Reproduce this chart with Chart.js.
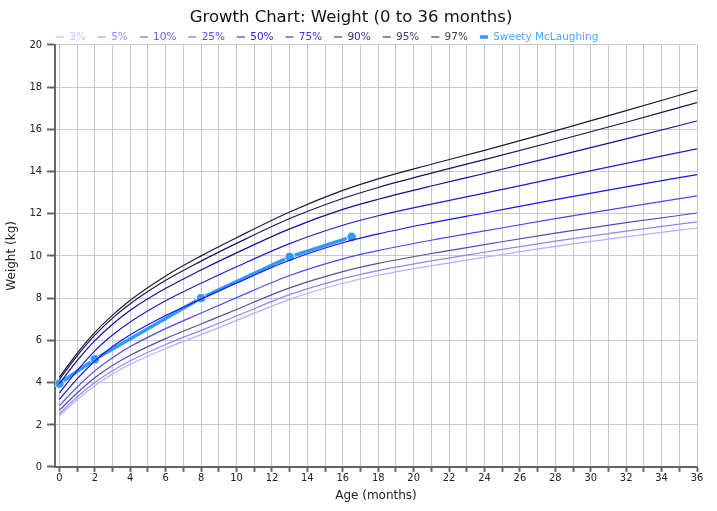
<!DOCTYPE html>
<html>
<head>
<meta charset="utf-8">
<script src="https://cdn.jsdelivr.net/npm/chart.js@4/dist/chart.umd.min.js"></script>
<style>
  html, body { margin: 0; padding: 0; background: #fff; }
  #wrap { width: 717px; height: 511px; }
</style>
</head>
<body>
<div id="wrap"><canvas id="myChart" width="717" height="511"></canvas></div>
<script>
// ages (months) at which the percentile curves are sampled
const ages = [0, 1, 2, 3, 4, 6, 8, 10, 13, 16, 18, 21, 24, 28, 32, 36];

// percentile curves, weight in kg
const p3 = [2.42, 3.18, 3.85, 4.4, 4.86, 5.61, 6.27, 6.94, 7.94, 8.7, 9.08, 9.53, 9.93, 10.45, 10.9, 11.32];
const p5 = [2.52, 3.31, 4.0, 4.56, 5.03, 5.8, 6.47, 7.15, 8.16, 8.92, 9.3, 9.76, 10.17, 10.7, 11.17, 11.61];
const p10 = [2.68, 3.5, 4.22, 4.8, 5.29, 6.08, 6.77, 7.46, 8.48, 9.25, 9.64, 10.11, 10.53, 11.08, 11.57, 12.03];
const p25 = [2.9, 3.78, 4.55, 5.17, 5.7, 6.55, 7.29, 8.02, 9.07, 9.86, 10.25, 10.74, 11.18, 11.76, 12.31, 12.84];
const p50 = [3.2, 4.17, 5.02, 5.7, 6.26, 7.17, 7.95, 8.71, 9.79, 10.62, 11.04, 11.56, 12.03, 12.66, 13.27, 13.85];
const p75 = [3.5, 4.56, 5.5, 6.25, 6.87, 7.87, 8.7, 9.48, 10.58, 11.45, 11.9, 12.45, 12.97, 13.68, 14.38, 15.07];
const p90 = [3.95, 5.03, 5.98, 6.76, 7.42, 8.46, 9.33, 10.14, 11.28, 12.2, 12.68, 13.31, 13.9, 14.71, 15.54, 16.39];
const p95 = [4.15, 5.26, 6.24, 7.05, 7.73, 8.84, 9.75, 10.59, 11.77, 12.72, 13.24, 13.92, 14.56, 15.43, 16.33, 17.26];
const p97 = [4.25, 5.38, 6.37, 7.19, 7.9, 9.05, 10.0, 10.86, 12.08, 13.1, 13.65, 14.34, 15.0, 15.92, 16.88, 17.85];

// the child's measurements
const childName = "Sweety McLaughing";
const childAges = [0, 2, 8, 13, 16.5];
const childWeights = [3.95, 5.1, 8.0, 9.95, 10.9];

// axis ticks
const xTicks = [0, 2, 4, 6, 8, 10, 12, 14, 16, 18, 20, 22, 24, 26, 28, 30, 32, 34, 36];
const yTicks = [0, 2, 4, 6, 8, 10, 12, 14, 16, 18, 20];

const percentiles = [
  { label: "3%", values: p3, color: "#b0b0ff", text: "#c6c6ff" },
  { label: "5%", values: p5, color: "#8a8af5", text: "#9292ff" },
  { label: "10%", values: p10, color: "#5050b0", text: "#6464e8" },
  { label: "25%", values: p25, color: "#4a4af5", text: "#4c4cf0" },
  { label: "50%", values: p50, color: "#1414ff", text: "#2222ee" },
  { label: "75%", values: p75, color: "#1c1cd0", text: "#3434dc" },
  { label: "90%", values: p90, color: "#10109a", text: "#30308e" },
  { label: "95%", values: p95, color: "#16165c", text: "#3e3e66" },
  { label: "97%", values: p97, color: "#1c1c30", text: "#3c3c4c" },
];

const datasets = percentiles.map((p) => ({
  label: p.label,
  data: ages.map((a, i) => ({ x: a, y: p.values[i] })),
  borderColor: p.color,
  backgroundColor: p.color,
  textColor: p.text,
  legendColor: p.color + "80",
  borderWidth: 1.2,
  pointRadius: 0,
  cubicInterpolationMode: "monotone",
  fill: false,
}));

datasets.push({
  label: childName,
  data: childAges.map((a, i) => ({ x: a, y: childWeights[i] })),
  borderColor: "#3399ff",
  backgroundColor: "#3399ff",
  textColor: "#4da6ff",
  legendColor: "#3399ff",
  borderWidth: 3.5,
  pointRadius: 4.8,
  pointBackgroundColor: "#3399ff",
  pointBorderColor: "#ffffff",
  pointBorderWidth: 1,
  tension: 0,
  fill: false,
});

const font = "'DejaVu Sans', Verdana, sans-serif";
const tickFont = "'DejaVu Sans Condensed', 'DejaVu Sans', sans-serif";

// squeeze the legend between the title and the plot, starting at the y axis
const legendTweak = {
  id: "legendTweak",
  beforeLayout(chart) {
    const lg = chart.legend;
    if (lg && !lg._tweaked) {
      const fit = lg.fit.bind(lg);
      lg.fit = function () {
        fit();
        this.height = 15;
      };
      lg._tweaked = true;
    }
  },
  afterLayout(chart) {
    const lg = chart.legend;
    lg.left -= 11;
    lg.right -= 11;
    lg.top -= 10;
  },
};

const ctx = document.getElementById("myChart").getContext("2d");
new Chart(ctx, {
  type: "line",
  data: { datasets: datasets },
  plugins: [legendTweak],
  options: {
    responsive: false,
    animation: false,
    layout: { padding: { left: 5, right: 20, top: 0, bottom: 8 } },
    plugins: {
      title: {
        display: true,
        text: "Growth Chart: Weight (0 to 36 months)",
        color: "#111",
        font: { family: font, size: 16.5, weight: "normal" },
        padding: { top: 8, bottom: 2 },
      },
      legend: {
        display: true,
        position: "top",
        align: "start",
        fullSize: false,
        labels: {
          font: { family: font, size: 10.5 },
          usePointStyle: true,
          pointStyleWidth: 8,
          padding: 12,
          generateLabels(chart) {
            return chart.data.datasets.map((ds, i) => ({
              text: ds.label,
              fillStyle: ds.legendColor,
              strokeStyle: ds.legendColor,
              fontColor: ds.textColor,
              lineWidth: i === chart.data.datasets.length - 1 ? 3.5 : 2,
              pointStyle: "line",
              hidden: false,
              datasetIndex: i,
            }));
          },
        },
      },
      tooltip: { enabled: false },
    },
    scales: {
      x: {
        type: "linear",
        min: -0.25,
        max: 36,
        afterBuildTicks(scale) {
          scale.ticks = [];
          for (let m = 0; m <= 36; m++) scale.ticks.push({ value: m });
        },
        ticks: {
          color: "#222",
          font: { family: tickFont, size: 11 },
          maxRotation: 0,
          autoSkip: false,
          padding: 0,
          callback: (v) => (xTicks.includes(v) ? v : ""),
        },
        grid: { color: "#c8c8c8", lineWidth: 1, tickColor: "#666", tickLength: 5, tickWidth: 2 },
        border: { color: "#666", width: 2 },
        title: {
          display: true,
          text: "Age (months)",
          color: "#222",
          font: { family: font, size: 12 },
          padding: { top: 3.5, bottom: 0 },
        },
      },
      y: {
        type: "linear",
        min: 0,
        max: 20,
        afterBuildTicks(scale) {
          scale.ticks = yTicks.map((v) => ({ value: v }));
        },
        ticks: {
          color: "#222",
          font: { family: tickFont, size: 11 },
          padding: 5,
        },
        grid: { color: "#c8c8c8", lineWidth: 1, tickColor: "#666", tickLength: 8, tickWidth: 2 },
        border: { color: "#666", width: 2 },
        title: {
          display: true,
          text: "Weight (kg)",
          color: "#222",
          font: { family: font, size: 12 },
          padding: { top: 0, bottom: 5 },
        },
      },
    },
  },
});
</script>
</body>
</html>
